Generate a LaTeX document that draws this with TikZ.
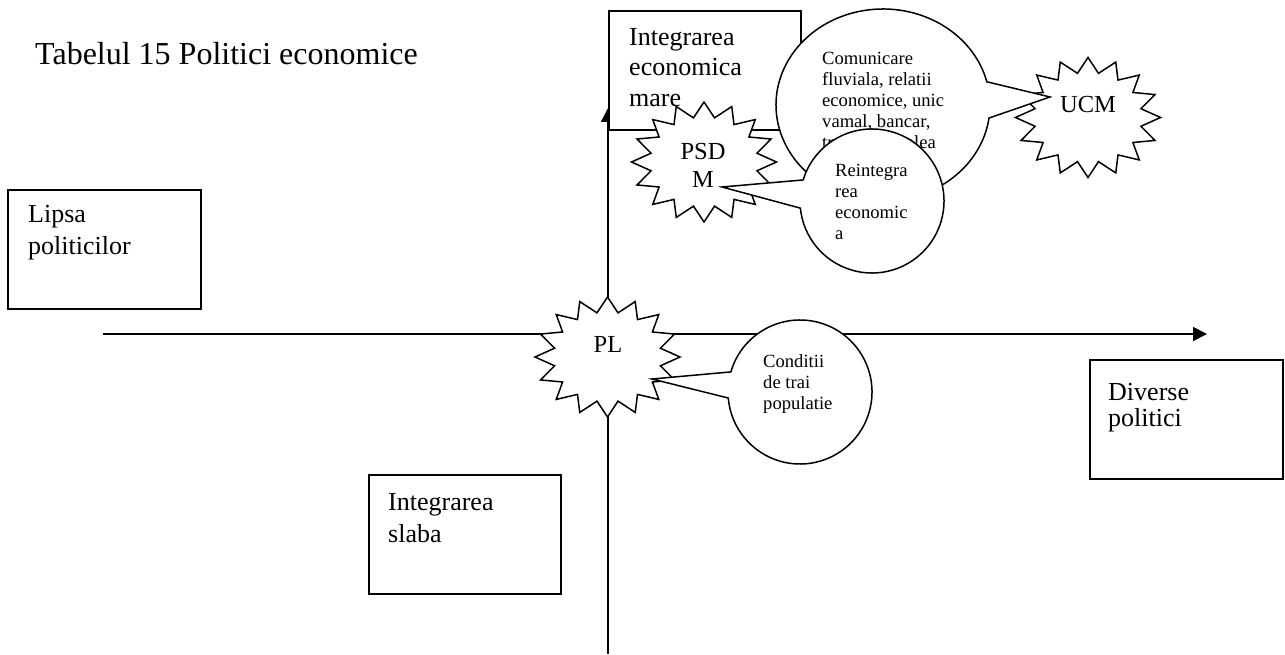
\documentclass[tikz,border=0pt]{standalone}
\usepackage{fontspec}
\setmainfont{Liberation Serif}
\usetikzlibrary{arrows.meta}
\tikzset{
  box/.style={draw, line width=1.8pt, fill=white, anchor=north west, inner sep=0pt},
  axis/.style={line width=1.7pt, -{Triangle[length=14pt,width=14pt]}},
  shapeline/.style={draw, line width=1.5pt, fill=white, line join=miter},
  bigtext/.style={anchor=north west, inner sep=0pt, align=left},
  smalltext/.style={anchor=north west, inner sep=0pt, align=left, font=\fontsize{18.6}{21}\selectfont},
  startext/.style={inner sep=0pt, align=center, font=\fontsize{24.5}{28}\selectfont},
  burst/.pic={\path[shapeline] (0:72.5 and 60) \foreach \k in {0,...,15}{ -- (\k*22.5+11.25:54 and 45) -- (\k*22.5+22.5:72.5 and 60)} -- cycle;}
}
\begin{document}
\begin{tikzpicture}[x=1pt,y=1pt]
\useasboundingbox (0,0) rectangle (1285,654);
% title
\node[anchor=base west, inner sep=0pt, font=\fontsize{32}{38}\selectfont] (title) at (35,589) {Tabelul 15 Politici economice};
% axes
\coordinate (hstart) at (103,320);
\coordinate (hend) at (1207,320);
\coordinate (vstart) at (608,0);
\coordinate (vend) at (608,546);
\draw[axis] (hstart) -- (hend);
\draw[axis] (vstart) -- (vend);
% boxes
\node[box, minimum width=193pt, minimum height=119pt] (lipsa) at (7,465) {};
\node[bigtext, font=\fontsize{26}{32}\selectfont] (lipsa-t) at (28,448.8) {Lipsa\\politicilor};
\node[box, minimum width=192pt, minimum height=119pt] (slaba) at (368,180) {};
\node[bigtext, font=\fontsize{26}{32}\selectfont] (slaba-t) at (388,161.2) {Integrarea\\slaba};
\node[box, minimum width=193pt, minimum height=119pt] (diverse) at (1089,295) {};
\node[bigtext, font=\fontsize{26}{25.5}\selectfont] (diverse-t) at (1108,270.8) {Diverse\\politici};
\node[box, minimum width=192pt, minimum height=119pt] (mare) at (608,644) {};
\node[bigtext, font=\fontsize{26}{30.5}\selectfont] (mare-t) at (629,626.2) {Integrarea\\economica\\mare};
% stars
\pic at (607.5,297) {burst};
\node[startext, anchor=base] (pl) at (608,301) {PL};
\pic at (704,492) {burst};
\node[startext, anchor=north] (psdm) at (703,510.6) {PSD\\M};
\pic at (1088,536.5) {burst};
\node[startext, anchor=base] (ucm) at (1088,541) {UCM};
% callout: Comunicare ...
\coordinate (ce) at (883,549);
\coordinate (ucmtip) at (1050,557);
\path[shapeline] (ucmtip) -- ([shift={(14:107 and 96)}]ce) arc[start angle=14, end angle=352.2, x radius=107, y radius=96] -- cycle;
\node[smalltext] (comunicare) at (822,601.7) {Comunicare\\fluviala, relatii\\economice, unic\\vamal, bancar,\\transport, calea};
% callout: Reintegrarea economica
\coordinate (rc) at (872,453);
\coordinate (psdmtip) at (722,467);
\path[shapeline] (psdmtip) -- ([shift={(163:72)}]rc) arc[start angle=163, end angle=-174.3, radius=72] -- cycle;
\node[smalltext] (reintegrarea) at (835,489.7) {Reintegra\\rea\\economic\\a};
% callout: Conditii de trai populatie
\coordinate (cc) at (800,262);
\coordinate (pltip) at (652,275);
\path[shapeline] (pltip) -- ([shift={(163.8:72)}]cc) arc[start angle=163.8, end angle=-175.2, radius=72] -- cycle;
\node[smalltext] (conditii) at (763,299.7) {Conditii\\de trai\\populatie};
\end{tikzpicture}
\end{document}
